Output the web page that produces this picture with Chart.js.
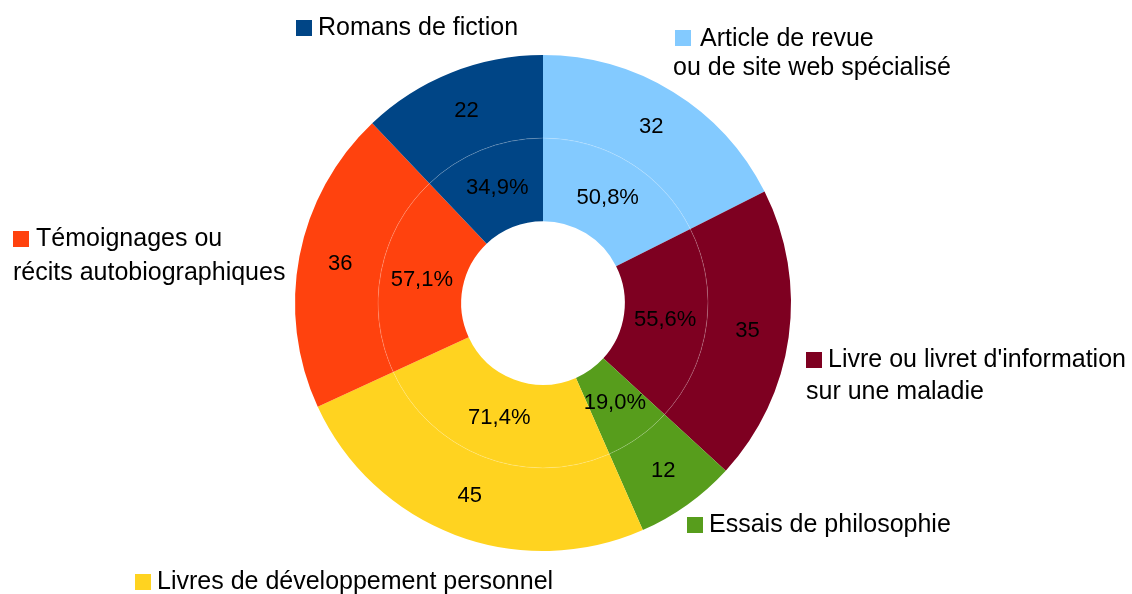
<!DOCTYPE html>
<html>
<head>
<meta charset="utf-8">
<script src="https://cdn.jsdelivr.net/npm/chart.js@4/dist/chart.umd.min.js"></script>
<style>
  html, body { margin: 0; padding: 0; background: #fff; }
  #wrap { width: 1132px; height: 594px; }
</style>
</head>
<body>
<div id="wrap"><canvas id="donut" width="1132" height="594"></canvas></div>
<script>
// categories, clockwise from 12 o'clock
const categories = [
    ["Article de revue", "ou de site web spécialisé"],
    ["Livre ou livret d'information", "sur une maladie"],
    ["Essais de philosophie"],
    ["Livres de développement personnel"],
    ["Témoignages ou", "récits autobiographiques"],
    ["Romans de fiction"]
];
const counts = [32, 35, 12, 45, 36, 22];
const percentLabels = ["50,8%", "55,6%", "19,0%", "71,4%", "57,1%", "34,9%"];
const colors = ["#83caff", "#7e0021", "#579d1c", "#ffd320", "#ff420e", "#004586"];

// legend placement, offsets from chart centre (square top-left, then each text line start / middle)
const legendLayout = [
    { sq: [132, -273], lines: [[157, -264], [130, -235]] },
    { sq: [263, 49], lines: [[285, 57], [263, 89]] },
    { sq: [144, 214], lines: [[166, 222]] },
    { sq: [-408, 271], lines: [[-386, 279]] },
    { sq: [-530, -72], lines: [[-507, -64], [-530, -30]] },
    { sq: [-247, -283], lines: [[-225, -275]] }
];

const FONT = '"Liberation Sans", Arial, sans-serif';

const labelPlugin = {
    id: "sliceLabels",
    afterDatasetsDraw(chart) {
        const ctx = chart.ctx;
        ctx.save();
        const outer = chart.getDatasetMeta(0).data;
        const inner = chart.getDatasetMeta(1).data;

        // faint ring separator
        const a = inner[0];
        ctx.beginPath();
        ctx.strokeStyle = "rgba(255,255,255,0.18)";
        ctx.lineWidth = 1;
        ctx.arc(a.x, a.y, a.outerRadius, 0, Math.PI * 2);
        ctx.stroke();

        ctx.fillStyle = "#000";
        ctx.font = "22px " + FONT;
        ctx.textAlign = "center";
        ctx.textBaseline = "middle";
        outer.forEach((arc, i) => {
            const p = arc.getCenterPoint();
            ctx.fillText(String(counts[i]), p.x, p.y);
        });
        inner.forEach((arc, i) => {
            const p = arc.getCenterPoint();
            ctx.fillText(percentLabels[i], p.x, p.y);
        });

        // legend next to slices
        const cx = a.x, cy = a.y;
        ctx.textAlign = "left";
        ctx.font = "25px " + FONT;
        legendLayout.forEach((item, i) => {
            ctx.fillStyle = colors[i];
            ctx.fillRect(cx + item.sq[0], cy + item.sq[1], 16, 16);
            ctx.fillStyle = "#000";
            item.lines.forEach((ln, j) => {
                ctx.fillText(categories[i][j], cx + ln[0], cy + ln[1]);
            });
        });
        ctx.restore();
    }
};

new Chart(document.getElementById("donut"), {
    type: "doughnut",
    data: {
        labels: categories.map(c => c.join(" ")),
        datasets: [
            { data: counts, backgroundColor: colors, borderWidth: 0 },
            { data: counts, backgroundColor: colors, borderWidth: 0 }
        ]
    },
    options: {
        responsive: false,
        animation: false,
        cutout: "33%",
        layout: { padding: { top: 55, bottom: 43, left: 0, right: 46 } },
        plugins: {
            legend: { display: false },
            tooltip: { enabled: false }
        }
    },
    plugins: [labelPlugin]
});
</script>
</body>
</html>
